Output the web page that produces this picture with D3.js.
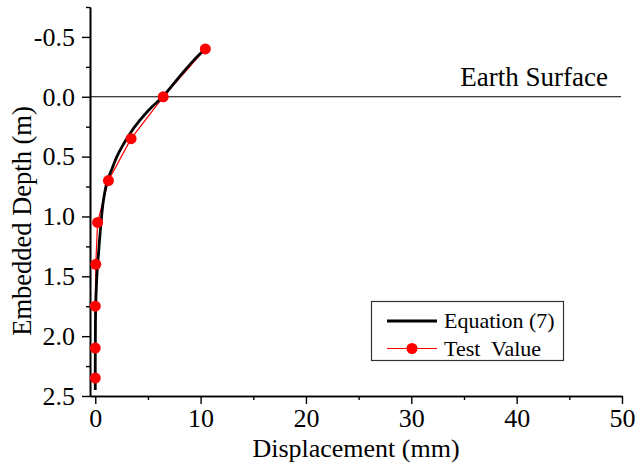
<!DOCTYPE html>
<html>
<head>
<meta charset="utf-8">
<script src="https://cdn.jsdelivr.net/npm/d3@7"></script>
<style>
  html, body { margin: 0; padding: 0; background: #fff; }
  svg { display: block; }
</style>
</head>
<body>
<svg id="chart" width="636" height="465"></svg>
<script>
// Equation (7): predicted pile displacement along the embedded depth
const eqDepth = [-0.38, -0.3, -0.2, -0.1, 0.0, 0.1, 0.2, 0.3, 0.4, 0.5, 0.6, 0.7, 0.8, 0.9, 1.0, 1.1, 1.2, 1.3, 1.4, 1.5, 1.6, 1.75, 2.0, 2.2, 2.45];
const eqDisp  = [10.2, 9.3, 8.3, 7.35, 6.4, 5.2, 4.2, 3.35, 2.65, 2.05, 1.6, 1.15, 0.9, 0.72, 0.6, 0.5, 0.4, 0.32, 0.22, 0.15, 0.1, 0.04, 0.01, 0.0, 0.0];

// Measured test values
const testDepth = [-0.4, 0.0, 0.35, 0.7, 1.05, 1.4, 1.75, 2.1, 2.35];
const testDisp  = [10.45, 6.45, 3.4, 1.25, 0.22, 0.05, 0.0, 0.0, 0.0];

const xTicks = [0, 10, 20, 30, 40, 50];
const xMinorTicks = [5, 15, 25, 35, 45];
const yTicks = [-0.5, 0.0, 0.5, 1.0, 1.5, 2.0, 2.5];
const yMinorTicks = [-0.75, -0.25, 0.25, 0.75, 1.25, 1.75, 2.25];

const seriesNames = ["Equation (7)", "Test  Value"];

const FONT = '"Liberation Serif"';

const svg = d3.select("#chart");
const x = d3.scaleLinear().domain([-0.5, 50]).range([90, 622]);
const y = d3.scaleLinear().domain([-0.75, 2.5]).range([7, 396]);

function serif(sel, size) {
  return sel.style("font-family", FONT).attr("font-size", size).attr("fill", "#000");
}

// Earth surface reference line
svg.append("line")
  .attr("x1", x(-0.5)).attr("x2", x(49.9))
  .attr("y1", y(0)).attr("y2", y(0))
  .attr("stroke", "#000").attr("stroke-width", 1.2);
serif(svg.append("text")
  .attr("x", 608).attr("y", 86)
  .attr("text-anchor", "end"), 27)
  .text("Earth Surface");

// Axes
const xAxis = svg.append("g").attr("transform", `translate(0,${y(2.5)})`)
  .call(d3.axisBottom(x).tickValues(xTicks).tickFormat(d3.format("d")).tickSizeInner(8).tickSizeOuter(0).tickPadding(5));
const xMinor = svg.append("g").attr("transform", `translate(0,${y(2.5)})`)
  .call(d3.axisBottom(x).tickValues(xMinorTicks).tickFormat("").tickSizeInner(4).tickSizeOuter(0));
const yAxis = svg.append("g").attr("transform", `translate(${x(-0.5)},0)`)
  .call(d3.axisLeft(y).tickValues(yTicks).tickFormat(d => d3.format(".1f")(d).replace("−", "-")).tickSizeInner(8).tickSizeOuter(0).tickPadding(7));
const yMinor = svg.append("g").attr("transform", `translate(${x(-0.5)},0)`)
  .call(d3.axisLeft(y).tickValues(yMinorTicks).tickFormat("").tickSizeInner(4).tickSizeOuter(0));

[xAxis, xMinor, yAxis, yMinor].forEach(g => {
  g.attr("font-family", null).style("font-family", FONT);
  g.select(".domain").attr("stroke", "#000").attr("stroke-width", 1.6);
  g.selectAll(".tick line").attr("stroke", "#000").attr("stroke-width", 1.4);
});
[xAxis, yAxis].forEach(g => serif(g.selectAll(".tick text"), 26));

// Axis titles
serif(svg.append("text")
  .attr("x", (x(-0.5) + x(50)) / 2).attr("y", 457)
  .attr("text-anchor", "middle"), 26)
  .text("Displacement (mm)");
serif(svg.append("text")
  .attr("transform", "translate(31,221) rotate(-90)")
  .attr("text-anchor", "middle"), 26.5)
  .text("Embedded Depth (m)");

const testData = testDepth.map((d, i) => ({ depth: d, disp: testDisp[i] }));
const eqData = eqDepth.map((d, i) => ({ depth: d, disp: eqDisp[i] }));

// Test value polyline
svg.append("path")
  .datum(testData)
  .attr("fill", "none").attr("stroke", "#ff0000").attr("stroke-width", 1.2)
  .attr("d", d3.line().x(d => x(d.disp)).y(d => y(d.depth)));

// Equation curve
svg.append("path")
  .datum(eqData)
  .attr("fill", "none").attr("stroke", "#000").attr("stroke-width", 2.8)
  .attr("d", d3.line().curve(d3.curveCatmullRom).x(d => x(d.disp)).y(d => y(d.depth)));

// Test value markers
svg.selectAll("circle.test")
  .data(testData).enter().append("circle")
  .attr("class", "test")
  .attr("cx", d => x(d.disp)).attr("cy", d => y(d.depth))
  .attr("r", 5.5).attr("fill", "#ff0000");

// Legend
const lg = svg.append("g");
lg.append("rect")
  .attr("x", 371.5).attr("y", 301.5).attr("width", 192).attr("height", 59)
  .attr("fill", "#fff").attr("stroke", "#333").attr("stroke-width", 1.2);
lg.append("line").attr("x1", 387).attr("x2", 437).attr("y1", 321).attr("y2", 321)
  .attr("stroke", "#000").attr("stroke-width", 2.8);
lg.append("line").attr("x1", 387).attr("x2", 437).attr("y1", 348.5).attr("y2", 348.5)
  .attr("stroke", "#ff0000").attr("stroke-width", 1.2);
lg.append("circle").attr("cx", 412).attr("cy", 348.5).attr("r", 5.5).attr("fill", "#ff0000");
serif(lg.append("text").attr("x", 444).attr("y", 328), 22)
  .style("white-space", "pre").text(seriesNames[0]);
serif(lg.append("text").attr("x", 444).attr("y", 356), 22)
  .style("white-space", "pre").text(seriesNames[1]);
</script>
</body>
</html>
